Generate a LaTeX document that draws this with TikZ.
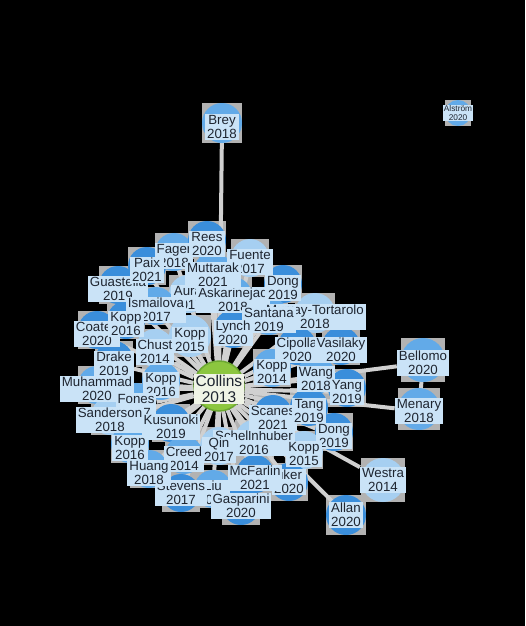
\documentclass[tikz,border=0pt]{standalone}
\usepackage{fontspec}
\setmainfont{Liberation Sans}
\usetikzlibrary{backgrounds,positioning}
\definecolor{tagblue}{HTML}{CAE3F7}
\definecolor{inkdark}{HTML}{1E2530}
\definecolor{dotdark}{HTML}{3A8EDB}
\definecolor{dotmid}{HTML}{62AAE8}
\definecolor{dotlight}{HTML}{A6CFF1}
\definecolor{linkgrey}{HTML}{D0D0D0}
\definecolor{halogrey}{HTML}{B2B2B2}
\definecolor{seedgreen}{HTML}{8CC63F}
\definecolor{seedrim}{HTML}{6CA832}
\definecolor{seedpale}{HTML}{F0F4E6}
\pgfdeclarelayer{canvas}
\pgfdeclarelayer{halos}
\pgfdeclarelayer{links}
\pgfdeclarelayer{dots}
\pgfsetlayers{canvas,halos,links,dots,main}
\tikzstyle{tag}=[fill=tagblue, text=inkdark, inner xsep=2pt, inner ysep=1pt, align=center, font=\fontsize{13.3}{14}\selectfont]
\tikzstyle{smalltag}=[tag, inner sep=1pt, font=\fontsize{8.3}{8.5}\selectfont]
\tikzstyle{seed}=[tag, fill=seedpale, font=\fontsize{15.5}{16}\selectfont]
\tikzstyle{citation}=[draw=linkgrey, line width=4pt]
% circle of a paper: node, colour, vertical shift, radius
\newcommand{\paperdot}[4]{%
    \begin{pgfonlayer}{halos}
        \fill[halogrey] (#1) ++(0,#3) +(-#4,-#4) rectangle +(#4,#4);
    \end{pgfonlayer}
    \begin{pgfonlayer}{dots}
        \fill[#2] (#1) ++(0,#3) circle (#4pt);
    \end{pgfonlayer}}

\begin{document}
\begin{tikzpicture}[x=1pt, y=-1pt]
    \useasboundingbox (0,0) rectangle (525,626);
    \begin{pgfonlayer}{canvas}
        \fill[black] (0,0) rectangle (525,626);
    \end{pgfonlayer}

    % papers
    \node[smalltag] (alstrom) at (458,113) {Alström\\2020};
    \node[tag] (brey) at (222,127) {Brey\\2018};
    \node[tag] (guastella) at (118,289) {Guastella\\2019};
    \node[tag] (fager) at (174,256) {Fager\\2018};
    \node[tag] (paix) at (147,270) {Paix\\2021};
    \node[tag] (rees) at (207,244) {Rees\\2020};
    \node[tag] (fuente) at (250,262) {Fuente\\2017};
    \node[tag] (aura) at (188,298) {Aura\\2017};
    \node[tag] (askarinejad) at (233,300) {Askarinejad\\2018};
    \node[tag] (muttarak) at (213,275) {Muttarak\\2021};
    \node[tag] (dongA) at (283,288) {Dong\\2019};
    \node[tag] (tortarolo) at (315,317) {Murray-Tortarolo\\2018};
    \node[tag] (santana) at (269,320) {Santana\\2019};
    \node[tag] (lynch) at (233,333) {Lynch\\2020};
    \node[tag] (ismailova) at (156,310) {Ismailova\\2017};
    \node[tag] (coates) at (97,334) {Coates\\2020};
    \node[tag] (koppA) at (126,324) {Kopp\\2016};
    \node[tag] (koppB) at (190,340) {Kopp\\2015};
    \node[tag] (chust) at (155,352) {Chust\\2014};
    \node[tag] (drake) at (114,364) {Drake\\2019};
    \node[tag] (cipolla) at (297,350) {Cipolla\\2020};
    \node[tag] (vasilaky) at (341,350) {Vasilaky\\2020};
    \node[tag] (koppC) at (272,372) {Kopp\\2014};
    \node[tag] (wang) at (316,379) {Wang\\2018};
    \node[tag] (yang) at (347,392) {Yang\\2019};
    \node[tag] (muhammad) at (97,389) {Muhammad\\2020};
    \node[tag] (koppD) at (161,385) {Kopp\\2016};
    \node[tag] (fones) at (136,406) {Fones\\2017};
    \node[tag] (sanderson) at (110,420) {Sanderson\\2018};
    \node[tag] (kusunoki) at (171,427) {Kusunoki\\2019};
    \node[tag] (koppE) at (130,448) {Kopp\\2016};
    \node[tag] (schellnhuber) at (254,443) {Schellnhuber\\2016};
    \node[tag] (qin) at (219,450) {Qin\\2017};
    \node[tag] (scanes) at (273,418) {Scanes\\2021};
    \node[tag] (tang) at (309,411) {Tang\\2019};
    \node[tag] (dongB) at (334,436) {Dong\\2019};
    \node[tag] (creed) at (184,459) {Creed\\2014};
    \node[tag] (koppF) at (304,454) {Kopp\\2015};
    \node[tag] (liu) at (213,493) {Liu\\2020};
    \node[tag] (stevens) at (181,493) {Stevens\\2017};
    \node[tag] (huang) at (149,473) {Huang\\2018};
    \node[tag] (uker) at (289,482) {uker\\2020};
    \node[tag] (mcfarlin) at (255,478) {McFarlin\\2021};
    \node[tag] (gasparini) at (241,506) {Gasparini\\2020};
    \node[tag] (westra) at (383,480) {Westra\\2014};
    \node[tag] (allan) at (346,515) {Allan\\2020};
    \node[tag] (bellomo) at (423,363) {Bellomo\\2020};
    \node[tag] (menary) at (419,411) {Menary\\2018};
    \node[seed] (collins) at (219,389) {Collins\\2013};

    % citations
    \begin{pgfonlayer}{links}
        \draw[citation] (collins) edge (brey) edge (rees) edge (fager) edge (paix) edge (guastella)
            edge (fuente) edge (aura) edge (askarinejad) edge (muttarak) edge (dongA)
            edge (tortarolo) edge (santana) edge (lynch) edge (ismailova) edge (coates)
            edge (koppA) edge (koppB) edge (chust) edge (drake) edge (cipolla)
            edge (vasilaky) edge (koppC) edge (wang) edge (yang) edge (muhammad)
            edge (koppD) edge (fones) edge (sanderson) edge (kusunoki) edge (koppE)
            edge (schellnhuber) edge (qin) edge (scanes) edge (tang) edge (dongB)
            edge (creed) edge (koppF) edge (liu) edge (stevens) edge (huang)
            edge (uker) edge (mcfarlin) edge (gasparini) edge (westra) edge (allan)
            edge (bellomo) edge (menary);
        \draw[citation] (bellomo) -- (menary);
    \end{pgfonlayer}

    % circles
    \paperdot{alstrom}{dotmid}{0}{13}
    \paperdot{brey}{dotmid}{-4}{20}
    \paperdot{guastella}{dotdark}{-4}{19}
    \paperdot{fager}{dotmid}{-4}{19}
    \paperdot{paix}{dotdark}{-4}{19}
    \paperdot{rees}{dotdark}{-4}{19}
    \paperdot{fuente}{dotlight}{-4}{19}
    \paperdot{aura}{dotlight}{-4}{19}
    \paperdot{askarinejad}{dotmid}{-4}{19}
    \paperdot{muttarak}{dotmid}{-4}{19}
    \paperdot{dongA}{dotdark}{-4}{19}
    \paperdot{tortarolo}{dotlight}{-4}{20}
    \paperdot{santana}{dotmid}{-4}{19}
    \paperdot{lynch}{dotdark}{-4}{19}
    \paperdot{ismailova}{dotmid}{-4}{19}
    \paperdot{coates}{dotdark}{-4}{19}
    \paperdot{koppA}{dotdark}{-4}{19}
    \paperdot{koppB}{dotlight}{-4}{21}
    \paperdot{chust}{dotlight}{-4}{19}
    \paperdot{drake}{dotdark}{-4}{19}
    \paperdot{cipolla}{dotdark}{-4}{19}
    \paperdot{vasilaky}{dotdark}{-4}{19}
    \paperdot{koppC}{dotmid}{-4}{19}
    \paperdot{wang}{dotmid}{-4}{19}
    \paperdot{yang}{dotdark}{-4}{19}
    \paperdot{muhammad}{dotmid}{-4}{19}
    \paperdot{koppD}{dotmid}{-4}{19}
    \paperdot{fones}{dotmid}{-4}{19}
    \paperdot{sanderson}{dotlight}{-4}{19}
    \paperdot{kusunoki}{dotdark}{-4}{19}
    \paperdot{koppE}{dotmid}{-4}{19}
    \paperdot{schellnhuber}{dotlight}{-4}{19}
    \paperdot{qin}{dotlight}{-4}{19}
    \paperdot{scanes}{dotdark}{-4}{19}
    \paperdot{tang}{dotdark}{-4}{19}
    \paperdot{dongB}{dotdark}{-4}{19}
    \paperdot{creed}{dotmid}{-4}{19}
    \paperdot{koppF}{dotlight}{-4}{19}
    \paperdot{liu}{dotmid}{-4}{19}
    \paperdot{stevens}{dotdark}{0}{19}
    \paperdot{huang}{dotmid}{-4}{19}
    \paperdot{uker}{dotdark}{0}{19}
    \paperdot{mcfarlin}{dotdark}{-4}{19}
    \paperdot{gasparini}{dotdark}{0}{19}
    \paperdot{westra}{dotlight}{0}{22}
    \paperdot{allan}{dotdark}{0}{20}
    \paperdot{bellomo}{dotmid}{-3}{22}
    \paperdot{menary}{dotmid}{-2}{21}
    \begin{pgfonlayer}{dots}
        \filldraw[fill=seedgreen, draw=seedrim, line width=1.5pt] (collins) ++(0,-3) circle (25pt);
    \end{pgfonlayer}
\end{tikzpicture}
\end{document}
